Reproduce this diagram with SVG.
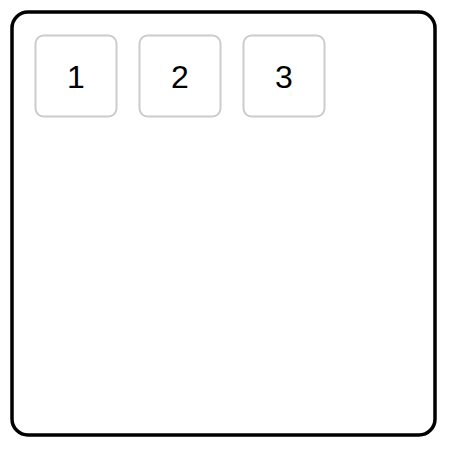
<svg xmlns="http://www.w3.org/2000/svg" width="452" height="450" viewBox="0 0 452 450">
<style>
.outer{fill:#fff;stroke:#000;stroke-width:3.5}
.box{fill:#fff;stroke:#ccc;stroke-width:2}
.lbl{font-family:"Liberation Sans",Arial,sans-serif;font-size:32px;fill:#000;text-anchor:middle}
</style>
<rect width="452" height="450" fill="#fff"/>
<g id="container"><rect class="outer" x="12" y="12" width="423" height="423" rx="16"/></g>
<g id="connectors"></g>
<g id="node1"><rect class="box" x="35.5" y="35.5" width="81" height="81" rx="8"/><text class="lbl" x="76" y="88">1</text></g>
<g id="node2"><rect class="box" x="139.5" y="35.5" width="81" height="81" rx="8"/><text class="lbl" x="180" y="88">2</text></g>
<g id="node3"><rect class="box" x="243.5" y="35.5" width="81" height="81" rx="8"/><text class="lbl" x="284" y="88">3</text></g>
</svg>
